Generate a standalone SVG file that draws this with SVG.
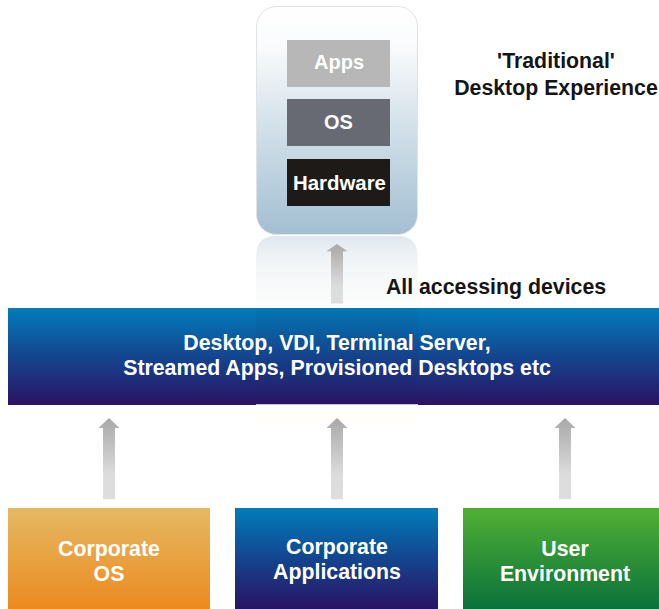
<svg xmlns="http://www.w3.org/2000/svg" width="659" height="609" viewBox="0 0 659 609">
<style>
text{font-family:"Liberation Sans",Arial,sans-serif;font-weight:700;text-anchor:middle}
.w{fill:#fff;font-size:21.300px}
.s{fill:#fff;font-size:20px}
.k{fill:#151515;font-size:21.300px}
.a{fill:url(#ga)}
</style>
<defs>
<linearGradient id="gd" x1="0" y1="0" x2="0" y2="1"><stop offset="0" stop-color="#fff"/><stop offset=".17" stop-color="#fafbfc"/><stop offset=".55" stop-color="#d0dfe8"/><stop offset="1" stop-color="#a3bfd2"/></linearGradient>
<linearGradient id="gr" x1="0" y1="0" x2="0" y2="1"><stop offset="0" stop-color="#dfe8ee"/><stop offset=".35" stop-color="#f2f5f7"/><stop offset="1" stop-color="#fdfefd"/></linearGradient>
<linearGradient id="gb" x1="0" y1="0" x2="0" y2="1"><stop offset="0" stop-color="#007dba"/><stop offset=".5" stop-color="#14458f"/><stop offset="1" stop-color="#2a1364"/></linearGradient>
<linearGradient id="go" x1="0" y1="0" x2="0" y2="1"><stop offset="0" stop-color="#e5b964"/><stop offset="1" stop-color="#ec8a1e"/></linearGradient>
<linearGradient id="gg" x1="0" y1="0" x2="0" y2="1"><stop offset="0" stop-color="#50b033"/><stop offset="1" stop-color="#0a713c"/></linearGradient>
<linearGradient id="ga" x1="0" y1="0" x2="0" y2="1"><stop offset="0" stop-color="#a8a8a8"/><stop offset=".7" stop-color="#dcdcdc"/><stop offset="1" stop-color="#dedede"/></linearGradient>
<path id="arrow" d="M0 0L10.500 11.500H6V94.500H-6V11.500H-10.500Z"/>
</defs>
<rect width="659" height="609" fill="#fff"/>
<g id="reflection"><path d="M256 256Q256 236 276 236H397.500Q417.500 236 417.500 256V308H256Z" fill="url(#gr)"/><rect x="256" y="405" width="162" height="18" fill="#fffef8"/></g>
<g id="desktop"><rect x="256.500" y="6.500" width="161" height="228" rx="20" fill="url(#gd)" stroke="#dfe3e5"/></g>
<g id="apps"><rect x="287" y="40" width="103" height="47" fill="#b7b7b7"/><text class="s" x="339" y="69">Apps</text></g>
<g id="os"><rect x="287" y="99" width="103" height="47" fill="#676a72"/><text class="s" x="338.500" y="129">OS</text></g>
<g id="hardware"><rect x="287" y="159" width="103" height="47" fill="#1e1a18"/><text class="s" style="font-size:20.400px" x="339.500" y="190">Hardware</text></g>
<g id="traditional-label"><text class="k" x="556" y="68">'Traditional'</text><text class="k" x="556" y="95">Desktop Experience</text></g>
<g id="accessing-label"><text class="k" x="496" y="294">All accessing devices</text></g>
<g id="delivery"><rect x="8" y="308" width="651" height="97" fill="url(#gb)"/><rect x="256" y="308" width="162" height="96" fill="#1a2a5a" opacity=".06"/><rect x="256" y="404" width="162" height="1" fill="#c8c6d2"/><text class="w" x="337" y="350">Desktop, VDI, Terminal Server,</text><text class="w" x="337" y="375">Streamed Apps, Provisioned Desktops etc</text></g>
<g id="corporate-os"><rect x="8" y="508" width="202" height="101" fill="url(#go)"/><text class="w" x="109" y="556">Corporate</text><text class="w" x="109" y="581">OS</text></g>
<g id="corporate-apps"><rect x="235" y="508" width="203" height="101" fill="url(#gb)"/><text class="w" x="337" y="554">Corporate</text><text class="w" x="337" y="579">Applications</text></g>
<g id="user-env"><rect x="463" y="508" width="196" height="101" fill="url(#gg)"/><text class="w" x="565" y="556">User</text><text class="w" x="565" y="581">Environment</text></g>
<g id="connectors">
<use href="#arrow" class="a" transform="translate(337 244) scale(1 .63)"/>
<use href="#arrow" class="a" transform="translate(109 418) scale(1 .86)"/>
<use href="#arrow" class="a" transform="translate(337 418) scale(1 .86)"/>
<use href="#arrow" class="a" transform="translate(565 418) scale(1 .86)"/>
</g>
</svg>
